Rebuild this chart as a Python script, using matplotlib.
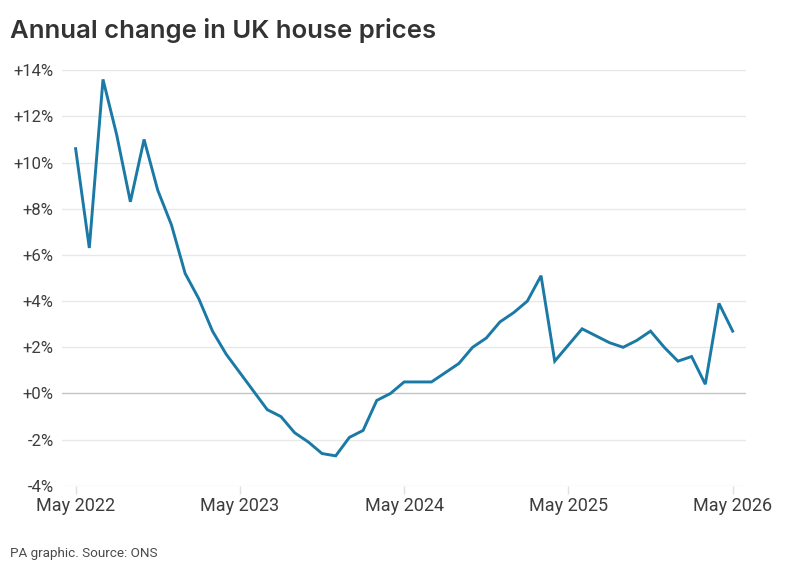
import numpy as np
import matplotlib.pyplot as plt
from matplotlib import font_manager

# annual % change, monthly May 2022 .. May 2026
values = [
    10.6, 6.3, 13.6, 11.2, 8.3, 11.0, 8.8, 7.3,
    5.2, 4.1, 2.7, 1.7, 0.9, 0.1, -0.7, -1.0, -1.7, -2.1, -2.6, -2.7,
    -1.9, -1.6, -0.3, 0.0, 0.5, 0.5, 0.5, 0.9, 1.3, 2.0, 2.4, 3.1,
    3.5, 4.0, 5.1, 1.4, 2.1, 2.8, 2.5, 2.2, 2.0, 2.3, 2.7, 2.0,
    1.4, 1.6, 0.4, 3.9, 2.7,
]
xtick_labels = ["May 2022", "May 2023", "May 2024", "May 2025", "May 2026"]
yticks = [-4, -2, 0, 2, 4, 6, 8, 10, 12, 14]

names = {f.name for f in font_manager.fontManager.ttflist}
tick_font = "Liberation Sans Narrow" if "Liberation Sans Narrow" in names else "Roboto"

fig = plt.figure(figsize=(7.94, 5.75), dpi=100)
ax = fig.add_axes([0.078, 0.155, 0.862, 0.723])

months = np.arange(len(values))
ax.plot(months, values, color="#1a7aa5", lw=2.1, solid_joinstyle="miter", zorder=3)

ax.set_xlim(-1, 49)
ax.set_ylim(-4, 14)
ax.set_yticks(yticks)
ax.set_yticklabels([("+" if v >= 0 else "") + f"{v}%" for v in yticks])
ax.set_xticks([0, 12, 24, 36, 48])
ax.set_xticklabels(xtick_labels)

for v in yticks:
    col = "#c4c4c4" if v == 0 else "#e8e8e8"
    ax.axhline(v, color=col, lw=1.0, zorder=1)

for s in ax.spines.values():
    s.set_visible(False)
ax.tick_params(axis="y", length=0, pad=6, labelsize=12, labelcolor="#3d3d3d")
ax.tick_params(axis="x", length=6, width=1, color="#e0e0e0", pad=2,
               labelsize=13, labelcolor="#3d3d3d")
for lab in ax.get_xticklabels() + ax.get_yticklabels():
    lab.set_fontfamily(tick_font)

fig.text(0.012, 0.947, "Annual change in UK house prices", fontsize=18.5,
         fontweight="semibold", color="#333333", family="Inter", va="center")
fig.text(0.012, 0.037, "PA graphic. Source: ONS", fontsize=9.7,
         color="#4a4a4a", family=tick_font, va="center")

fig.savefig("out.png", dpi=100, facecolor="white")
